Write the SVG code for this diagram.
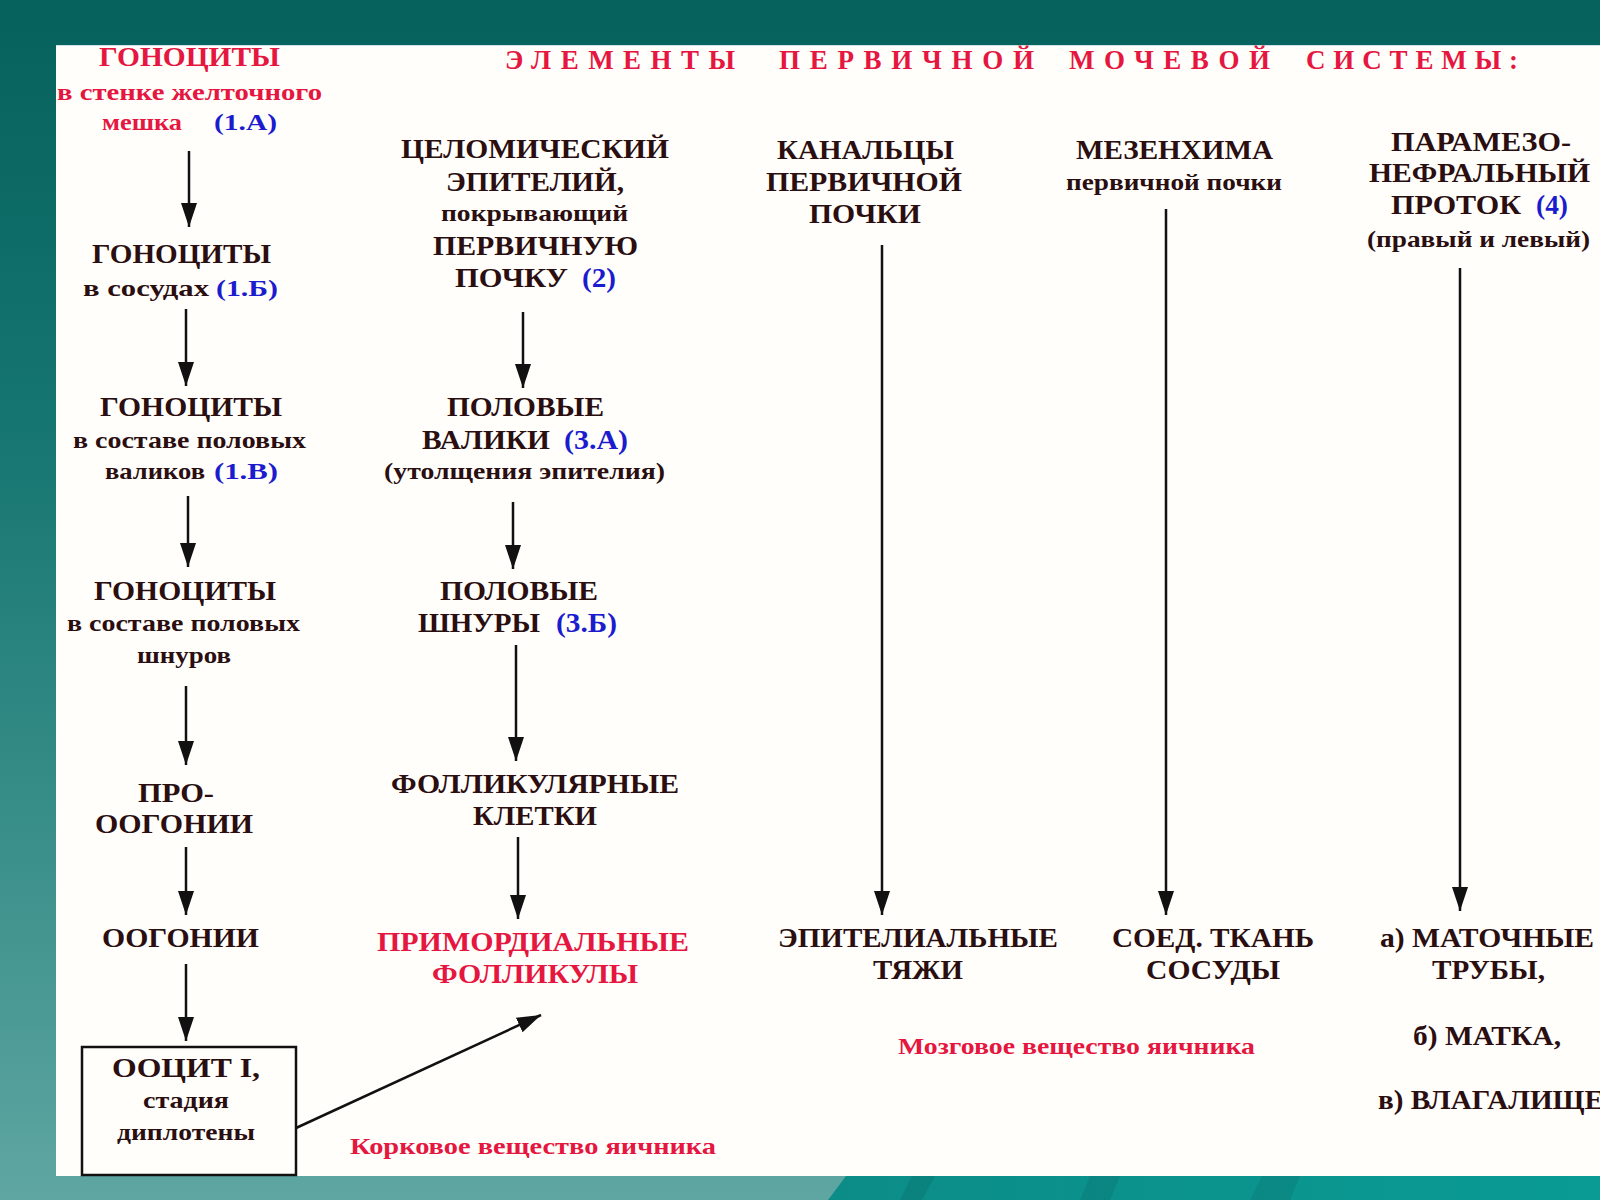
<svg xmlns="http://www.w3.org/2000/svg" width="1600" height="1200" viewBox="0 0 1600 1200">
<defs>
<linearGradient id="bg" x1="0" y1="0" x2="0" y2="1">
<stop offset="0" stop-color="#05615c"/>
<stop offset="0.35" stop-color="#157570"/>
<stop offset="0.7" stop-color="#3a8f8a"/>
<stop offset="1" stop-color="#5fa6a2"/>
</linearGradient>
<linearGradient id="wave" x1="0" y1="0" x2="1" y2="0">
<stop offset="0" stop-color="#0c8c87"/>
<stop offset="1" stop-color="#0a9b95"/>
</linearGradient>
<marker id="ah" markerUnits="userSpaceOnUse" markerWidth="26" markerHeight="18" refX="24" refY="8" orient="auto">
<path d="M0,0 L24,8 L0,16 Z" fill="#111"/>
</marker>
<style>
.c{font-family:"Liberation Serif","Times New Roman",serif;font-weight:bold;font-size:27px;fill:#2a0e10}
.s{font-family:"Liberation Serif","Times New Roman",serif;font-weight:bold;font-size:23px;fill:#2a0e10}
.r{fill:#e5163f}
.b{fill:#1c1ccf}
.t{font-family:"Liberation Serif","Times New Roman",serif;font-weight:bold;font-size:27px;fill:#e5163f}
.ln{stroke:#111;stroke-width:2.5;fill:none;marker-end:url(#ah)}
</style>
</defs>
<rect width="1600" height="1200" fill="url(#bg)"/>
<polygon points="828,1200 846,1176 1600,1176 1600,1200" fill="url(#wave)"/>
<polygon points="900,1200 912,1176 935,1176 922,1200" fill="#0a7a76" opacity="0.6"/>
<polygon points="1080,1200 1090,1176 1120,1176 1110,1200" fill="#0a7a76" opacity="0.5"/>
<polygon points="1250,1200 1262,1176 1300,1176 1290,1200" fill="#0a7a76" opacity="0.45"/>
<rect x="56" y="45" width="1544" height="1131" fill="#fffefb"/>
<line x1="56" y1="45.5" x2="1600" y2="45.5" stroke="#cfe0ea" stroke-width="1"/>

<g id="title">
<text class="t" y="69"><tspan x="505" textLength="230" lengthAdjust="spacing">ЭЛЕМЕНТЫ</tspan><tspan x="779" textLength="255" lengthAdjust="spacing">ПЕРВИЧНОЙ</tspan><tspan x="1069" textLength="201" lengthAdjust="spacing">МОЧЕВОЙ</tspan><tspan x="1306" textLength="212" lengthAdjust="spacing">СИСТЕМЫ:</tspan></text>
</g>

<g id="gonocytes-yolk">
<text class="c r" x="99" y="66" textLength="181" lengthAdjust="spacingAndGlyphs">ГОНОЦИТЫ</text>
<text class="s r" x="57" y="100" textLength="265" lengthAdjust="spacingAndGlyphs">в  стенке желточного</text>
<text class="s" y="130"><tspan class="r" x="102" textLength="80" lengthAdjust="spacingAndGlyphs">мешка</tspan><tspan class="b" x="214" textLength="63" lengthAdjust="spacingAndGlyphs">(1.А)</tspan></text>
</g>
<g id="gonocytes-vessels">
<text class="c" x="92" y="263" textLength="179" lengthAdjust="spacingAndGlyphs">ГОНОЦИТЫ</text>
<text class="s" y="296"><tspan x="83" textLength="126" lengthAdjust="spacingAndGlyphs">в  сосудах</tspan><tspan class="b" x="216" textLength="62" lengthAdjust="spacingAndGlyphs">(1.Б)</tspan></text>
</g>
<g id="gonocytes-ridges">
<text class="c" x="100" y="416" textLength="182" lengthAdjust="spacingAndGlyphs">ГОНОЦИТЫ</text>
<text class="s" x="73" y="448" textLength="233" lengthAdjust="spacingAndGlyphs">в составе половых</text>
<text class="s" y="479"><tspan x="105" textLength="100" lengthAdjust="spacingAndGlyphs">валиков</tspan><tspan class="b" x="214" textLength="64" lengthAdjust="spacingAndGlyphs">(1.В)</tspan></text>
</g>
<g id="gonocytes-cords">
<text class="c" x="94" y="600" textLength="182" lengthAdjust="spacingAndGlyphs">ГОНОЦИТЫ</text>
<text class="s" x="67" y="631" textLength="233" lengthAdjust="spacingAndGlyphs">в составе половых</text>
<text class="s" x="137" y="663" textLength="94" lengthAdjust="spacingAndGlyphs">шнуров</text>
</g>
<g id="prooogonia">
<text class="c" x="138" y="802" textLength="76" lengthAdjust="spacingAndGlyphs">ПРО-</text>
<text class="c" x="95" y="833" textLength="158" lengthAdjust="spacingAndGlyphs">ООГОНИИ</text>
</g>
<g id="oogonia">
<text class="c" x="102" y="947" textLength="157" lengthAdjust="spacingAndGlyphs">ООГОНИИ</text>
</g>
<g id="oocyte">
<rect x="82" y="1047" width="214" height="128" fill="none" stroke="#111" stroke-width="2.5"/>
<text class="c" x="112" y="1077" textLength="148" lengthAdjust="spacingAndGlyphs">ООЦИТ  I,</text>
<text class="s" x="143" y="1108" textLength="86" lengthAdjust="spacingAndGlyphs">стадия</text>
<text class="s" x="117" y="1140" textLength="138" lengthAdjust="spacingAndGlyphs">диплотены</text>
</g>

<g id="coelomic-epithelium">
<text class="c" x="401" y="158" textLength="268" lengthAdjust="spacingAndGlyphs">ЦЕЛОМИЧЕСКИЙ</text>
<text class="c" x="446" y="191" textLength="178" lengthAdjust="spacingAndGlyphs">ЭПИТЕЛИЙ,</text>
<text class="s" x="441" y="221" textLength="187" lengthAdjust="spacingAndGlyphs">покрывающий</text>
<text class="c" x="433" y="255" textLength="205" lengthAdjust="spacingAndGlyphs">ПЕРВИЧНУЮ</text>
<text class="c" y="287"><tspan x="455" textLength="113" lengthAdjust="spacingAndGlyphs">ПОЧКУ</tspan><tspan class="b" x="582" textLength="34" lengthAdjust="spacingAndGlyphs">(2)</tspan></text>
</g>
<g id="genital-ridges">
<text class="c" x="447" y="416" textLength="157" lengthAdjust="spacingAndGlyphs">ПОЛОВЫЕ</text>
<text class="c" y="449"><tspan x="422" textLength="128" lengthAdjust="spacingAndGlyphs">ВАЛИКИ</tspan><tspan class="b" x="564" textLength="64" lengthAdjust="spacingAndGlyphs">(3.А)</tspan></text>
<text class="s" x="384" y="479" textLength="281" lengthAdjust="spacingAndGlyphs">(утолщения эпителия)</text>
</g>
<g id="genital-cords">
<text class="c" x="440" y="600" textLength="158" lengthAdjust="spacingAndGlyphs">ПОЛОВЫЕ</text>
<text class="c" y="632"><tspan x="418" textLength="122" lengthAdjust="spacingAndGlyphs">ШНУРЫ</tspan><tspan class="b" x="556" textLength="61" lengthAdjust="spacingAndGlyphs">(3.Б)</tspan></text>
</g>
<g id="follicular-cells">
<text class="c" x="391" y="793" textLength="288" lengthAdjust="spacingAndGlyphs">ФОЛЛИКУЛЯРНЫЕ</text>
<text class="c" x="473" y="825" textLength="124" lengthAdjust="spacingAndGlyphs">КЛЕТКИ</text>
</g>
<g id="primordial-follicles">
<text class="c r" x="377" y="951" textLength="312" lengthAdjust="spacingAndGlyphs">ПРИМОРДИАЛЬНЫЕ</text>
<text class="c r" x="432" y="983" textLength="206" lengthAdjust="spacingAndGlyphs">ФОЛЛИКУЛЫ</text>
</g>
<g id="cortex-label">
<text class="s r" x="350" y="1154" textLength="366" lengthAdjust="spacingAndGlyphs">Корковое  вещество яичника</text>
</g>

<g id="mesonephric-tubules">
<text class="c" x="777" y="159" textLength="177" lengthAdjust="spacingAndGlyphs">КАНАЛЬЦЫ</text>
<text class="c" x="766" y="191" textLength="196" lengthAdjust="spacingAndGlyphs">ПЕРВИЧНОЙ</text>
<text class="c" x="809" y="223" textLength="112" lengthAdjust="spacingAndGlyphs">ПОЧКИ</text>
</g>
<g id="epithelial-cords">
<text class="c" x="778" y="947" textLength="280" lengthAdjust="spacingAndGlyphs">ЭПИТЕЛИАЛЬНЫЕ</text>
<text class="c" x="873" y="979" textLength="90" lengthAdjust="spacingAndGlyphs">ТЯЖИ</text>
</g>

<g id="mesenchyme">
<text class="c" x="1076" y="159" textLength="197" lengthAdjust="spacingAndGlyphs">МЕЗЕНХИМА</text>
<text class="s" x="1066" y="190" textLength="216" lengthAdjust="spacingAndGlyphs">первичной почки</text>
</g>
<g id="connective-tissue">
<text class="c" x="1112" y="947" textLength="202" lengthAdjust="spacingAndGlyphs">СОЕД. ТКАНЬ</text>
<text class="c" x="1146" y="979" textLength="134" lengthAdjust="spacingAndGlyphs">СОСУДЫ</text>
</g>
<g id="medulla-label">
<text class="s r" x="898" y="1054" textLength="357" lengthAdjust="spacingAndGlyphs">Мозговое вещество яичника</text>
</g>

<g id="paramesonephric-duct">
<text class="c" x="1391" y="151" textLength="180" lengthAdjust="spacingAndGlyphs">ПАРАМЕЗО-</text>
<text class="c" x="1369" y="182" textLength="221" lengthAdjust="spacingAndGlyphs">НЕФРАЛЬНЫЙ</text>
<text class="c" y="214"><tspan x="1391" textLength="130" lengthAdjust="spacingAndGlyphs">ПРОТОК</tspan><tspan class="b" x="1536" textLength="32" lengthAdjust="spacingAndGlyphs">(4)</tspan></text>
<text class="s" x="1367" y="247" textLength="223" lengthAdjust="spacingAndGlyphs">(правый и левый)</text>
</g>
<g id="duct-derivatives">
<text class="c" x="1380" y="947" textLength="214" lengthAdjust="spacingAndGlyphs">а) МАТОЧНЫЕ</text>
<text class="c" x="1432" y="979" textLength="113" lengthAdjust="spacingAndGlyphs">ТРУБЫ,</text>
<text class="c" x="1413" y="1045" textLength="148" lengthAdjust="spacingAndGlyphs">б) МАТКА,</text>
<text class="c" x="1378" y="1109" textLength="226" lengthAdjust="spacingAndGlyphs">в) ВЛАГАЛИЩЕ</text>
</g>

<g id="connectors">
<line class="ln" x1="189" y1="151" x2="189" y2="227"/>
<line class="ln" x1="186" y1="309" x2="186" y2="386"/>
<line class="ln" x1="188" y1="496" x2="188" y2="567"/>
<line class="ln" x1="186" y1="686" x2="186" y2="765"/>
<line class="ln" x1="186" y1="847" x2="186" y2="915"/>
<line class="ln" x1="186" y1="964" x2="186" y2="1041"/>
<line class="ln" x1="523" y1="312" x2="523" y2="388"/>
<line class="ln" x1="513" y1="502" x2="513" y2="569"/>
<line class="ln" x1="516" y1="645" x2="516" y2="761"/>
<line class="ln" x1="518" y1="837" x2="518" y2="919"/>
<line class="ln" x1="882" y1="245" x2="882" y2="915"/>
<line class="ln" x1="1166" y1="209" x2="1166" y2="915"/>
<line class="ln" x1="1460" y1="268" x2="1460" y2="911"/>
<line class="ln" x1="296" y1="1128" x2="541" y2="1015"/>
</g>
</svg>
